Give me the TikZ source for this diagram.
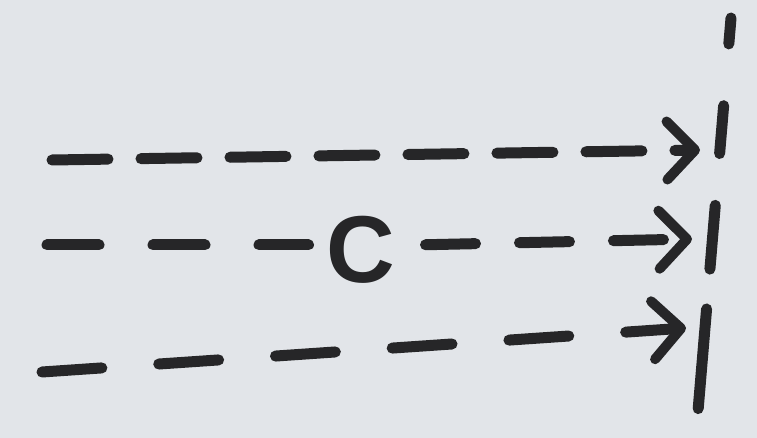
\documentclass[tikz,border=0pt]{standalone}
\usepackage{fontspec}
\setmainfont{Liberation Sans}
\usetikzlibrary{arrows.meta}
\definecolor{paper}{RGB}{226,229,233}
\definecolor{ink}{RGB}{38,38,40}
\tikzset{
  ink line/.style={draw=ink, line width=11pt, line cap=round, line join=round},
  flow/.style={ink line, -{Straight Barb[length=28pt, width=58pt, line width=10pt, round]}},
  lbl/.style={text=ink, font=\bfseries\fontsize{95}{95}\selectfont, inner xsep=18pt, inner ysep=0pt, anchor=base}
}
\begin{document}
\begin{tikzpicture}[x=1pt,y=-1pt]
  \fill[paper] (0,0) rectangle (757,438);
  \useasboundingbox (0,0) rectangle (757,438);
  % barrier line
  \coordinate (vt) at (731,18);
  \coordinate (vb) at (698,411);
  \draw[ink line, dash pattern=on 26pt off 62pt on 48pt off 52pt on 64pt off 40pt on 100pt off 20pt] (vt) -- (vb);
  % arrow 1
  \coordinate (a1s) at (52,160);
  \coordinate (a1e) at (700,150);
  \draw[flow, dash pattern=on 56pt off 33pt] (a1s) -- (a1e);
  % arrow 2 with label C
  \coordinate (a2s) at (47,245);
  \coordinate (a2e) at (692,239);
  \node[lbl] (c) at (361,282) {C};
  \draw[ink line, dash pattern=on 52pt off 54pt] (a2s) -- (a2s -| c.west);
  \draw[flow, dash pattern=on 50pt off 44pt, shorten <=12pt] (c.east |- a2s) -- (a2e);
  % arrow 3
  \coordinate (a3s) at (42,372);
  \coordinate (a3e) at (686,328);
  \draw[flow, dash pattern=on 60pt off 57pt] (a3s) -- (a3e);
\end{tikzpicture}
\end{document}
